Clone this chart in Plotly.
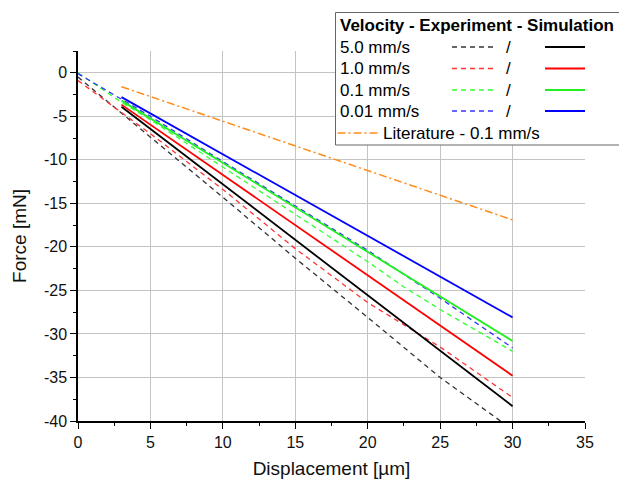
import plotly.graph_objects as go

# ---------------- data ----------------
x_ticks = [0, 5, 10, 15, 20, 25, 30, 35]
y_ticks = [0, -5, -10, -15, -20, -25, -30, -35, -40]
y_tick_labels = ["0", "-5", "-10", "-15", "-20", "-25", "-30", "-35", "-40"]

# Experiment (dashed)
exp_5_0_x = [0, 3, 5, 10, 15, 20, 25, 30]
exp_5_0_y = [-0.5, -4.6, -7.4, -14.3, -21.3, -28.1, -35.0, -41.0]
exp_1_0_x = [0, 3, 5, 10, 15, 20, 25, 30]
exp_1_0_y = [-0.9, -4.5, -7.0, -13.4, -20.2, -26.4, -31.5, -37.3]
exp_0_1_x = [0, 3, 5, 10, 15, 20, 22.5, 25, 30]
exp_0_1_y = [0.0, -3.4, -5.4, -10.8, -16.3, -21.7, -24.6, -27.2, -32.0]
exp_0_01_x = [0, 3, 5, 10, 15, 20, 22, 25, 30]
exp_0_01_y = [-0.1, -3.1, -5.0, -10.2, -15.3, -20.4, -22.6, -25.9, -31.6]

# Simulation (solid)
sim_x = [3, 30]
sim_5_0_y = [-3.9, -38.3]
sim_1_0_y = [-3.66, -34.8]
sim_0_1_y = [-3.2, -30.8]
sim_0_01_y = [-2.8, -28.1]

# Literature
lit_x = [3, 30]
lit_y = [-1.6, -16.9]

velocities = ["5.0 mm/s", "1.0 mm/s", "0.1 mm/s", "0.01 mm/s"]
colors = ["#000000", "#ff0000", "#22ee22", "#0000ff"]
exp_dash_colors = ["#333333", "#ff3333", "#33ff33", "#3333ff"]
orange = "#ff8c1a"

FONT = "Arial, 'Liberation Sans', sans-serif"

fig = go.Figure()

exp_sets = [(exp_5_0_x, exp_5_0_y), (exp_1_0_x, exp_1_0_y),
            (exp_0_1_x, exp_0_1_y), (exp_0_01_x, exp_0_01_y)]
sim_sets = [sim_5_0_y, sim_1_0_y, sim_0_1_y, sim_0_01_y]

for (ex, ey), c in zip(exp_sets, exp_dash_colors):
    fig.add_trace(go.Scatter(x=ex, y=ey, mode="lines",
                             line=dict(color=c, width=1.3, dash="5px,4px"),
                             showlegend=False, hoverinfo="skip"))
for sy, c in zip(sim_sets, colors):
    fig.add_trace(go.Scatter(x=sim_x, y=sy, mode="lines",
                             line=dict(color=c, width=1.8),
                             showlegend=False, hoverinfo="skip"))
fig.add_trace(go.Scatter(x=lit_x, y=lit_y, mode="lines",
                         line=dict(color=orange, width=1.5, dash="8px,3px,2px,3px"),
                         showlegend=False, hoverinfo="skip"))

# ---------------- layout ----------------
L, R, T, B = 78, 34, 51, 60
W, H = 619, 481
PW, PH = W - L - R, H - T - B


def px(xp):
    return (xp - L) / PW


def py(yp):
    return (H - B - yp) / PH


fig.update_layout(
    width=W, height=H,
    margin=dict(l=L, r=R, t=T, b=B),
    paper_bgcolor="white", plot_bgcolor="white",
    font=dict(family=FONT, color="#111111", size=16),
    showlegend=False,
)
fig.update_xaxes(
    range=[0, 35], tickmode="array", tickvals=x_ticks, automargin=False,
    showline=True, linecolor="black", linewidth=1.5,
    ticks="outside", ticklen=6, tickwidth=1.3, tickcolor="black",
    tickfont=dict(size=16),
    showgrid=True, gridcolor="#c4c4c4", gridwidth=1, zeroline=False,
    minor=dict(tickvals=[2.5, 7.5, 12.5, 17.5, 22.5, 27.5, 32.5],
               ticks="outside", ticklen=3, tickcolor="black", showgrid=False),
    title=dict(text="Displacement [µm]", font=dict(size=19), standoff=12),
)
fig.update_yaxes(
    range=[-40, 2.5], tickmode="array", tickvals=y_ticks, ticktext=y_tick_labels,
    automargin=False,
    showline=True, linecolor="black", linewidth=1.5,
    ticks="outside", ticklen=6, tickwidth=1.3, tickcolor="black",
    tickfont=dict(size=16),
    showgrid=True, gridcolor="#c4c4c4", gridwidth=1, zeroline=False,
    minor=dict(tickvals=[2.5, -2.5, -7.5, -12.5, -17.5, -22.5, -27.5, -32.5, -37.5],
               ticks="outside", ticklen=3, tickcolor="black", showgrid=False),
    title=dict(text="Force [mN]", font=dict(size=19), standoff=12),
)

# ---------------- custom legend ----------------
shapes = [dict(type="rect", xref="paper", yref="paper",
               x0=px(335.5), x1=px(650), y0=py(145), y1=py(12.5),
               line=dict(color="#666666", width=1), fillcolor="white", layer="above")]
annotations = [dict(text="<b>Velocity - Experiment - Simulation</b>", xref="paper", yref="paper",
                    x=px(337.5), y=py(25.5), xanchor="left", yanchor="middle",
                    showarrow=False, font=dict(size=17, color="black"))]
row_y = [47, 68.5, 90, 111]
for label, ry, ce, cs in zip(velocities, row_y, exp_dash_colors, colors):
    annotations.append(dict(text=label, xref="paper", yref="paper", x=px(337.5), y=py(ry),
                            xanchor="left", yanchor="middle", showarrow=False,
                            font=dict(size=17, color="black")))
    annotations.append(dict(text="/", xref="paper", yref="paper", x=px(508.5), y=py(ry),
                            xanchor="center", yanchor="middle", showarrow=False,
                            font=dict(size=17, color="black")))
    shapes.append(dict(type="line", xref="paper", yref="paper", x0=px(452), x1=px(494),
                       y0=py(ry), y1=py(ry), line=dict(color=ce, width=1.3, dash="5px,4px"),
                       layer="above"))
    shapes.append(dict(type="line", xref="paper", yref="paper", x0=px(545), x1=px(585),
                       y0=py(ry), y1=py(ry), line=dict(color=cs, width=1.8), layer="above"))
shapes.append(dict(type="line", xref="paper", yref="paper", x0=px(337.5), x1=px(377.5),
                   y0=py(133), y1=py(133), line=dict(color=orange, width=1.5, dash="8px,3px,2px,3px"),
                   layer="above"))
annotations.append(dict(text="Literature - 0.1 mm/s", xref="paper", yref="paper", x=px(381),
                        y=py(133), xanchor="left", yanchor="middle", showarrow=False,
                        font=dict(size=17, color="black")))

fig.update_layout(shapes=shapes, annotations=annotations)

fig.write_html("out.html")
